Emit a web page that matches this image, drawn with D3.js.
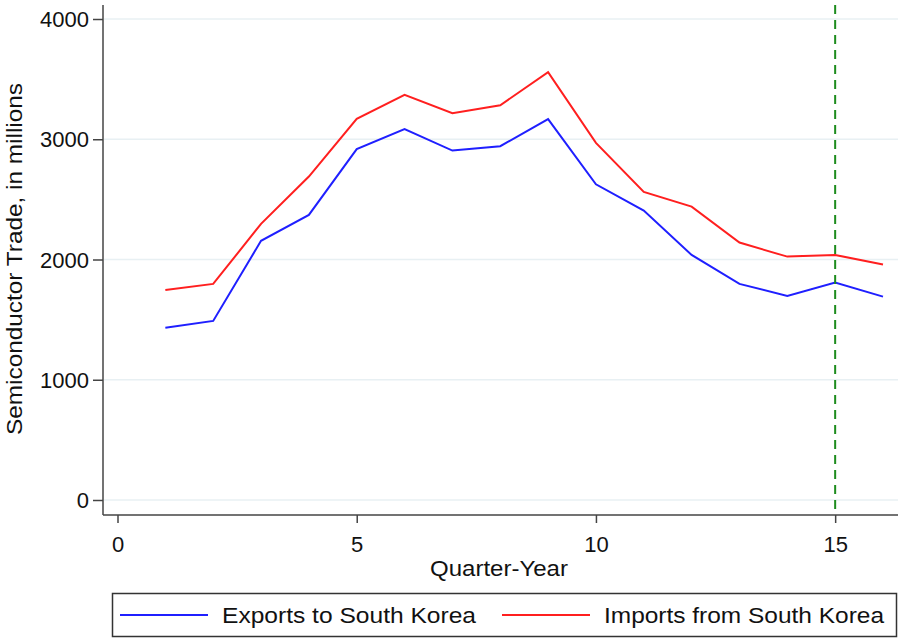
<!DOCTYPE html>
<html>
<head>
<meta charset="utf-8">
<script src="https://cdn.jsdelivr.net/npm/d3@7"></script>
<style>
  body { margin: 0; background: #fff; }
  text { font-family: "Liberation Sans", Arial, sans-serif; fill: #111; }
</style>
</head>
<body>
<div id="chart"></div>
<script>
const quarters = [1, 2, 3, 4, 5, 6, 7, 8, 9, 10, 11, 12, 13, 14, 15, 16];
const exportsKR = [1433, 1489, 2155, 2371, 2918, 3084, 2906, 2942, 3167, 2625, 2407, 2038, 1797, 1697, 1808, 1691];
const importsKR = [1747, 1797, 2296, 2690, 3170, 3369, 3217, 3283, 3558, 2970, 2562, 2440, 2141, 2024, 2038, 1958];
const yTicks = [0, 1000, 2000, 3000, 4000];
const xTicks = [0, 5, 10, 15];
const seriesNames = ["Exports to South Korea", "Imports from South Korea"];
const seriesColors = ["#1f1fff", "#ff1f1f"];
const markerQuarter = 15;

const w = 898, h = 639;
const svg = d3.select("#chart").append("svg").attr("width", w).attr("height", h);

const x = d3.scaleLinear().domain([0, 16]).range([117.5, 883]);
const y = d3.scaleLinear().domain([0, 4000]).range([500, 19]);

// grid
svg.append("g")
  .selectAll("line")
  .data(yTicks)
  .enter()
  .append("line")
  .attr("x1", 104)
  .attr("x2", w)
  .attr("y1", d => y(d))
  .attr("y2", d => y(d))
  .attr("stroke", "#e8f0f3")
  .attr("stroke-width", 1.5);

// y axis
const yAxis = d3.axisLeft(y).tickValues(yTicks).tickFormat(d3.format("d")).tickSize(10).tickSizeOuter(0).tickPadding(4);
const gy = svg.append("g").attr("transform", "translate(103,0)").call(yAxis);
gy.select(".domain").attr("d", "M0,5V515").attr("stroke", "#444").attr("stroke-width", 1.5);
gy.selectAll(".tick line").attr("stroke", "#444").attr("stroke-width", 1.5);
gy.selectAll(".tick text").style("font-size", "22px").attr("dy", "0.35em");

// x axis
const xAxis = d3.axisBottom(x).tickValues(xTicks).tickSize(8).tickSizeOuter(0).tickPadding(13);
const gx = svg.append("g").attr("transform", "translate(0,515)").call(xAxis);
gx.select(".domain").attr("d", "M103,0H" + w).attr("stroke", "#444").attr("stroke-width", 1.5);
gx.selectAll(".tick line").attr("stroke", "#444").attr("stroke-width", 1.5);
gx.selectAll(".tick text").style("font-size", "22px");

// axis titles
svg.append("text")
  .attr("x", 499)
  .attr("y", 576)
  .attr("text-anchor", "middle")
  .attr("textLength", 138)
  .attr("lengthAdjust", "spacingAndGlyphs")
  .style("font-size", "22px")
  .text("Quarter-Year");

svg.append("text")
  .attr("transform", "translate(22,259) rotate(-90)")
  .attr("text-anchor", "middle")
  .attr("textLength", 352)
  .attr("lengthAdjust", "spacingAndGlyphs")
  .style("font-size", "22px")
  .text("Semiconductor Trade, in millions");

// lines
const line = d3.line()
  .x((d, i) => x(quarters[i]))
  .y(d => y(d));

[exportsKR, importsKR].forEach((vals, k) => {
  svg.append("path")
    .datum(vals)
    .attr("d", line)
    .attr("fill", "none")
    .attr("stroke", seriesColors[k])
    .attr("stroke-width", 2);
});

// vertical marker
svg.append("line")
  .attr("x1", x(markerQuarter))
  .attr("x2", x(markerQuarter))
  .attr("y1", 5)
  .attr("y2", 515)
  .attr("stroke", "#1e8c1e")
  .attr("stroke-width", 2)
  .attr("stroke-dasharray", "9,6");

// legend
const legend = svg.append("g");
legend.append("rect")
  .attr("x", 112.5)
  .attr("y", 593.5)
  .attr("width", 784)
  .attr("height", 43)
  .attr("fill", "#fff")
  .attr("stroke", "#333")
  .attr("stroke-width", 1.5);

const legendX = [120, 502];
const legendLen = [254, 280];
seriesNames.forEach((name, k) => {
  legend.append("line")
    .attr("x1", legendX[k])
    .attr("x2", legendX[k] + 88)
    .attr("y1", 615)
    .attr("y2", 615)
    .attr("stroke", seriesColors[k])
    .attr("stroke-width", 2);
  legend.append("text")
    .attr("x", legendX[k] + 102)
    .attr("y", 615)
    .attr("dy", "0.35em")
    .attr("textLength", legendLen[k])
    .attr("lengthAdjust", "spacingAndGlyphs")
    .style("font-size", "22px")
    .text(name);
});
</script>
</body>
</html>
